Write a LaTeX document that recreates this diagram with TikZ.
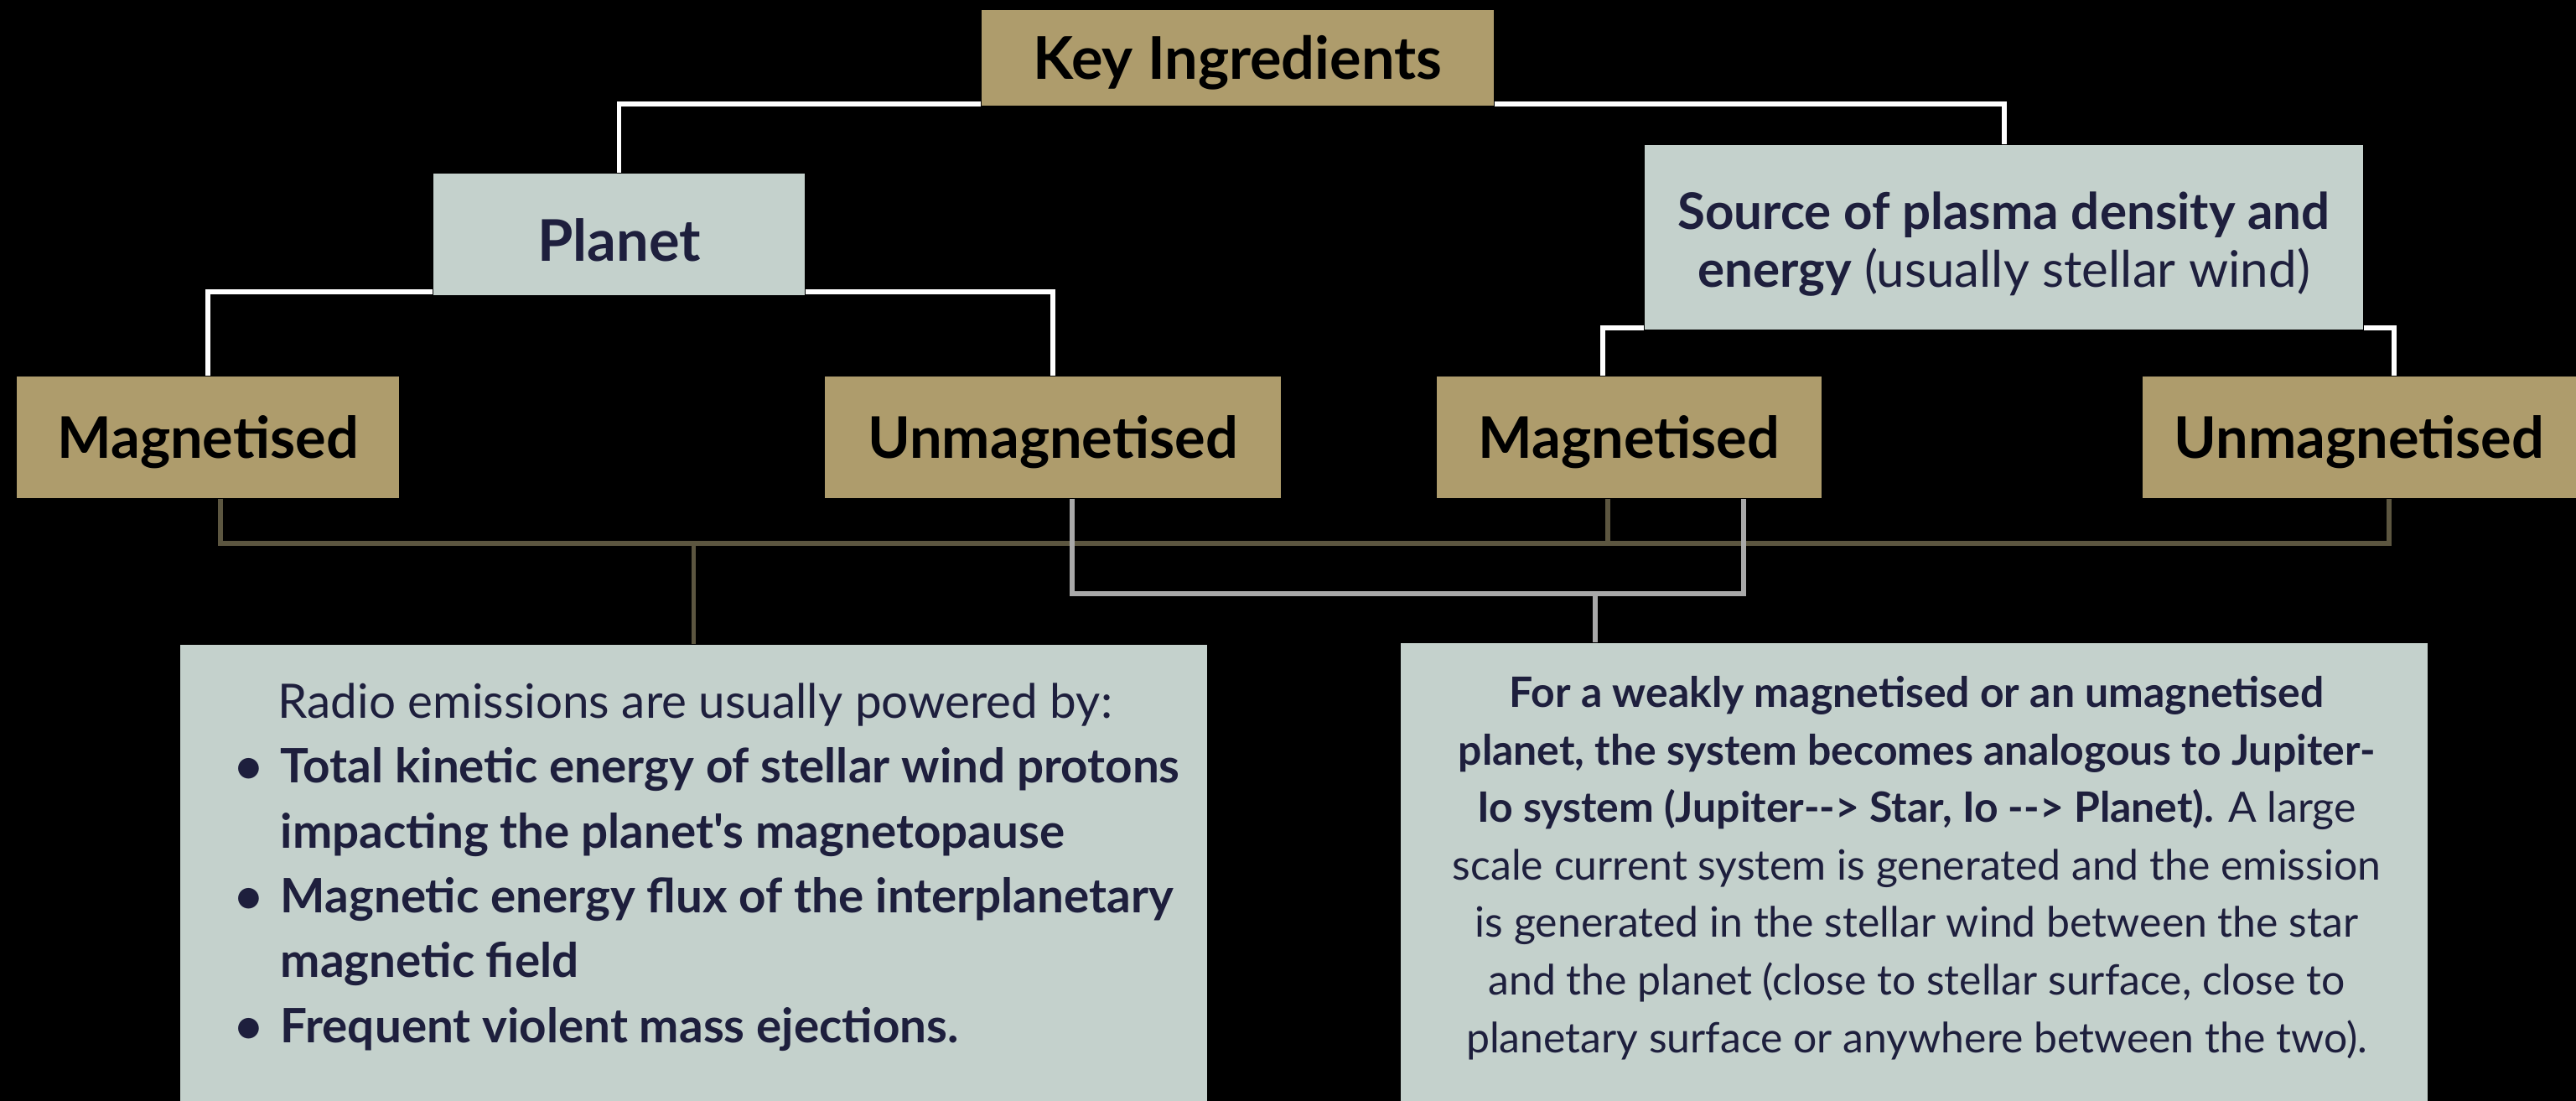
\documentclass[tikz,border=0pt]{standalone}
\usepackage{fontspec}
\setmainfont{Lato}[Ligatures=TeXOff]
\usetikzlibrary{backgrounds}
\definecolor{dusty gold}{HTML}{AE9C6C}
\definecolor{pale sage}{HTML}{C4D1CC}
\definecolor{deep navy}{HTML}{1E1F3D}
\definecolor{murky olive}{HTML}{5C5640}
\definecolor{soft grey}{HTML}{A9A9A9}

\begin{document}
\begin{tikzpicture}[
		goldbox/.style = {fill=dusty gold, inner sep=0pt, text=black, minimum height=1.45cm,
			font=\bfseries\fontsize{19.5pt}{24pt}\selectfont, text height=14pt, text depth=0pt},
		sagebox/.style = {fill=pale sage, inner sep=0pt, text=deep navy},
		whitewire/.style = {draw=white, line width=1.7pt},
		olivewire/.style = {draw=murky olive, line width=1.7pt},
		greywire/.style = {draw=soft grey, line width=1.5pt}
	]
			\useasboundingbox (0,0) rectangle (30.73,-13.13);
			% top of the tree
			\node[goldbox, minimum width=6.11cm, minimum height=1.14cm, text height=14.3pt,
				font=\bfseries\fontsize{20pt}{24pt}\selectfont] (key) at (14.765,-0.69) {Key Ingredients};
			\node[sagebox, minimum width=4.43cm, minimum height=1.45cm, text height=18.4pt, text depth=0pt,
				font=\bfseries\fontsize{19.5pt}{23pt}\selectfont] (planet) at (7.385,-2.795) {Planet};
			\node[sagebox, minimum width=8.57cm, minimum height=2.2cm, align=center, text height=36.8pt,
				font=\fontsize{17.1pt}{19.5pt}\selectfont] (source) at (23.905,-2.83)
				{\textbf{Source of plasma density and}\\\textbf{energy} (usually stellar wind)};
			% middle row
			\node[goldbox, minimum width=4.56cm] (mag1) at (2.48,-5.215) {Magnetised};
			\node[goldbox, minimum width=5.44cm] (unmag1) at (12.56,-5.215) {Unmagnetised};
			\node[goldbox, minimum width=4.59cm] (mag2) at (19.435,-5.215) {Magnetised};
			\node[goldbox, minimum width=5.17cm] (unmag2) at (28.145,-5.215) {Unmagnetised};
			% bottom boxes
			\node[sagebox, minimum width=12.25cm, minimum height=5.44cm] (powered) at (8.275,-10.41) {};
			\node[sagebox, minimum width=12.25cm, minimum height=5.46cm] (jupiter) at (22.835,-10.40) {};
			\node[anchor=base west, align=left, inner sep=0pt, text=deep navy,
				font=\fontsize{16.1pt}{22pt}\selectfont] (poweredtext) at (2.80,-12.43) {%
				\hspace*{0.51cm}Radio emissions are usually powered by:\\
				\textbf{\makebox[0.54cm][l]{\textbullet}Total kinetic energy of stellar wind protons}\\
				\textbf{\hspace*{0.54cm}impacting the planet's magnetopause}\\
				\textbf{\makebox[0.54cm][l]{\textbullet}Magnetic energy flux of the interplanetary}\\
				\textbf{\hspace*{0.54cm}magnetic field}\\
				\textbf{\makebox[0.54cm][l]{\textbullet}Frequent violent mass ejections.}};
			\node[anchor=base, align=center, inner sep=0pt, text=deep navy,
				font=\fontsize{14.2pt}{19.5pt}\selectfont] (jupitertext) at (22.865,-12.55) {%
				\textbf{For a weakly magnetised or an umagnetised}\\
				\textbf{planet, the system becomes analogous to Jupiter-}\\
				\textbf{Io system (Jupiter--> Star, Io --> Planet).} A large\\
				scale current system is generated and the emission\\
				is generated in the stellar wind between the star\\
				and the planet (close to stellar surface, close to\\
				planetary surface or anywhere between the two).};
			% wires behind the boxes
			\begin{scope}[on background layer]
				\fill[black] (0,0) rectangle (30.73,-13.13);
				\draw[whitewire] ([yshift=0.9pt]key.south west) -| (planet.north);
				\draw[whitewire] ([yshift=0.9pt]key.south east) -| (source.north);
				\draw[whitewire] ([yshift=1.4pt]planet.south west) -| (mag1.north);
				\draw[whitewire] ([yshift=1.4pt]planet.south east) -| (unmag1.north);
				\draw[whitewire] ([yshift=0.9pt]source.south west) -| ([xshift=-0.32cm]mag2.north);
				\draw[whitewire] ([yshift=0.9pt]source.south east) -| ([xshift=0.41cm]unmag2.north);
				\coordinate (olivebus) at (0,-6.48);
				\coordinate (greybus) at (0,-7.08);
				\draw[olivewire] ([xshift=0.15cm]mag1.south) |- ([xshift=0.355cm]unmag2.south |- olivebus)
					-- ([xshift=0.355cm]unmag2.south);
				\draw[olivewire] ([xshift=-0.255cm]mag2.south) -- ([xshift=-0.255cm]mag2.south |- olivebus);
				\draw[olivewire] (olivebus -| powered.north) -- (powered.north);
				\draw[greywire] ([xshift=0.23cm]unmag1.south) |- ([xshift=1.365cm]mag2.south |- greybus)
					-- ([xshift=1.365cm]mag2.south);
				\draw[greywire] ([xshift=-3.805cm]jupiter.north |- greybus) -- ([xshift=-3.805cm]jupiter.north);
			\end{scope}
		\end{tikzpicture}
\end{document}
